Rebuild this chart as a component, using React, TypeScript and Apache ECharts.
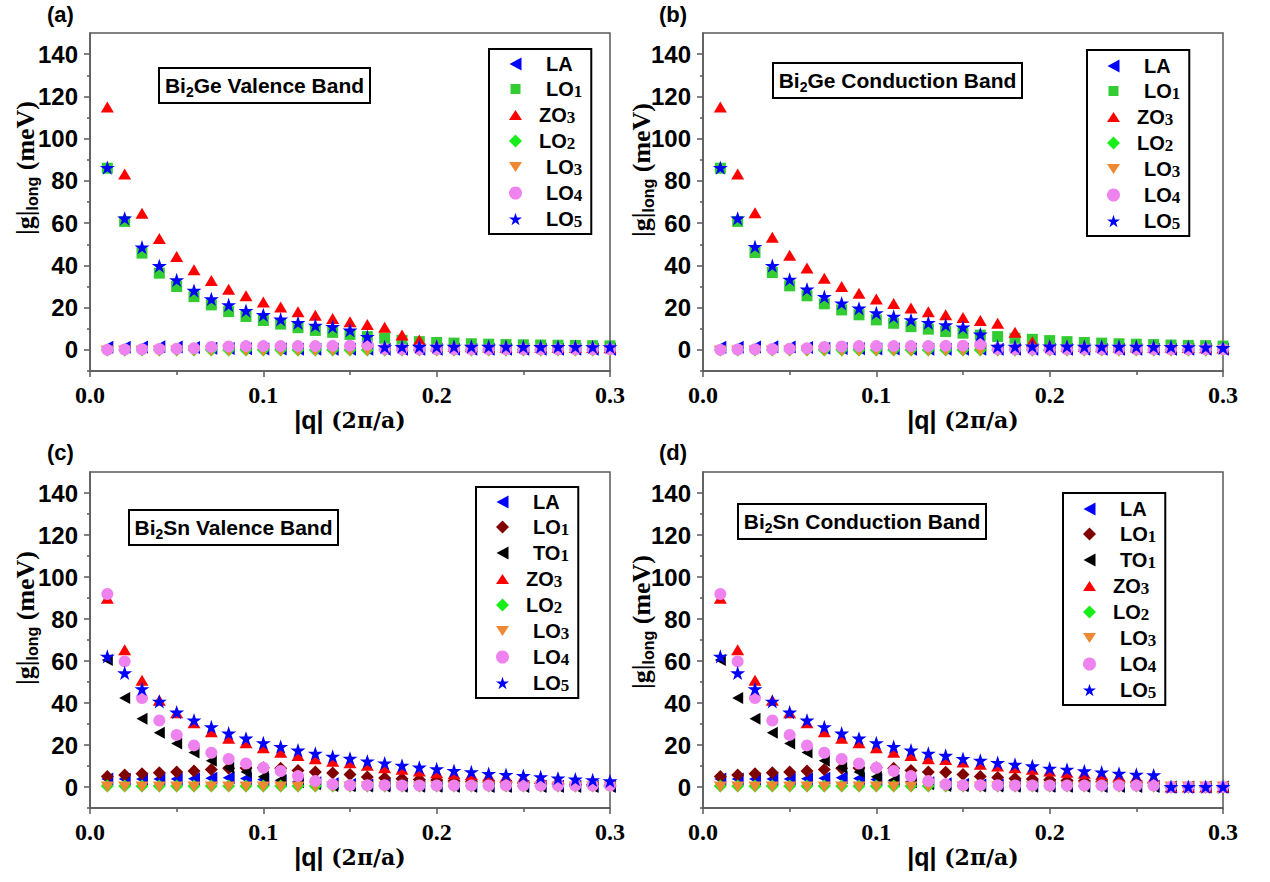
import React, { useEffect, useRef } from "react";
import * as echarts from "echarts";

// |q| in units of 2π/a
const qValues = [
  0.01, 0.02, 0.03, 0.04, 0.05, 0.06, 0.07, 0.08, 0.09, 0.1,
  0.11, 0.12, 0.13, 0.14, 0.15, 0.16, 0.17, 0.18, 0.19, 0.2,
  0.21, 0.22, 0.23, 0.24, 0.25, 0.26, 0.27, 0.28, 0.29, 0.3,
];

const yTickValues = [0, 20, 40, 60, 80, 100, 120, 140];
const yMinorTickValues = [-10, 10, 30, 50, 70, 90, 110, 130];

// ---- Bi2Ge, valence band: |g|long (meV) per phonon mode ----
const geVbLA = [1.2, 1.3, 1.4, 1.5, 1.4, 1.1, 0.8, 0.6, 0.5, 0.4, 0.4, 0.3, 0.3, 0.3, 0.3, 0.3, 0.3, 0.3, 0.3, 0.3, 0.3, 0.3, 0.3, 0.3, 0.3, 0.3, 0.3, 0.3, 0.3, 0.3];
const geVbLO1 = [86.0, 60.8, 45.8, 36.3, 30.0, 25.2, 21.3, 18.1, 15.8, 13.9, 12.2, 10.5, 9.2, 8.3, 7.3, 6.3, 5.5, 4.5, 3.9, 3.5, 3.2, 2.9, 2.7, 2.5, 2.4, 2.3, 2.2, 2.1, 2.0, 1.9];
const geVbZO3 = [115.0, 83.3, 64.7, 52.7, 44.2, 37.9, 32.8, 28.7, 25.6, 22.7, 20.3, 18.1, 16.4, 14.8, 13.3, 12.0, 10.7, 7.1, 4.7, 1.8, 1.6, 1.5, 1.4, 1.3, 1.3, 1.2, 1.2, 1.1, 1.1, 1.0];
const geVbLO2 = [0.0, 0.0, 0.0, 0.0, 0.0, 0.0, 0.0, 0.0, 0.0, 0.0, 0.0, 0.0, 0.0, 0.0, 0.0, 0.0, 0.0, 0.0, 0.0, 0.0, 0.0, 0.0, 0.0, 0.0, 0.0, 0.0, 0.0, 0.0, 0.0, 0.0];
const geVbLO3 = [-0.5, -0.5, -0.5, -0.5, -0.5, -0.5, -0.5, -0.5, -0.5, -0.5, -0.5, -0.5, -0.5, -0.5, -0.5, -0.5, -0.5, -0.5, -0.5, -0.5, -0.5, -0.5, -0.5, -0.5, -0.5, -0.5, -0.5, -0.5, -0.5, -0.5];
const geVbLO4 = [0.0, 0.2, 0.3, 0.4, 0.5, 0.8, 1.4, 1.6, 1.8, 1.8, 1.8, 1.8, 1.8, 1.9, 2.0, 2.4, 0.4, 0.3, 0.3, 0.3, 0.3, 0.3, 0.3, 0.3, 0.3, 0.3, 0.3, 0.3, 0.3, 0.3];
const geVbLO5 = [86.3, 62.3, 48.6, 39.8, 33.1, 28.1, 24.1, 21.3, 18.6, 16.6, 14.5, 12.9, 11.6, 11.0, 9.3, 6.3, 1.4, 1.5, 1.6, 1.6, 1.6, 1.6, 1.6, 1.6, 1.5, 1.5, 1.5, 1.5, 1.4, 1.4];

// ---- Bi2Ge, conduction band ----
const geCbLA = [1.2, 1.3, 1.4, 1.5, 1.4, 1.1, 0.8, 0.6, 0.5, 0.4, 0.4, 0.3, 0.3, 0.3, 0.3, 0.3, 0.3, 0.3, 0.3, 0.3, 0.3, 0.3, 0.3, 0.3, 0.3, 0.3, 0.3, 0.3, 0.3, 0.3];
const geCbLO1 = [86.0, 60.8, 46.1, 36.6, 30.3, 25.6, 21.8, 18.9, 16.6, 14.2, 12.6, 11.0, 9.8, 8.7, 7.9, 7.0, 6.3, 5.5, 5.0, 4.4, 3.9, 3.5, 3.2, 2.9, 2.7, 2.5, 2.3, 2.1, 2.0, 1.8];
const geCbZO3 = [115.0, 83.3, 64.9, 53.3, 44.8, 38.7, 33.9, 30.0, 26.8, 24.1, 21.9, 19.8, 18.1, 16.6, 15.3, 13.9, 12.6, 8.4, 3.9, 1.9, 1.7, 1.6, 1.5, 1.4, 1.4, 1.3, 1.2, 1.1, 1.0, 0.9];
const geCbLO2 = [0.0, 0.0, 0.0, 0.0, 0.0, 0.0, 0.0, 0.0, 0.0, 0.0, 0.0, 0.0, 0.0, 0.0, 0.0, 0.0, 0.0, 0.0, 0.0, 0.0, 0.0, 0.0, 0.0, 0.0, 0.0, 0.0, 0.0, 0.0, 0.0, 0.0];
const geCbLO3 = [-0.5, -0.5, -0.5, -0.5, -0.5, -0.5, -0.5, -0.5, -0.5, -0.5, -0.5, -0.5, -0.5, -0.5, -0.5, -0.5, -0.5, -0.5, -0.5, -0.5, -0.5, -0.5, -0.5, -0.5, -0.5, -0.5, -0.5, -0.5, -0.5, -0.5];
const geCbLO4 = [0.0, 0.2, 0.3, 0.4, 0.5, 0.8, 1.4, 1.6, 1.8, 1.8, 1.8, 1.8, 1.8, 1.9, 2.0, 2.8, 0.4, 0.3, 0.3, 0.3, 0.3, 0.3, 0.3, 0.3, 0.3, 0.3, 0.3, 0.3, 0.3, 0.3];
const geCbLO5 = [86.3, 62.3, 48.9, 39.9, 33.4, 28.7, 25.2, 22.1, 19.7, 17.5, 15.8, 14.2, 12.9, 11.8, 10.7, 7.4, 1.6, 1.6, 1.7, 1.7, 1.7, 1.6, 1.6, 1.6, 1.6, 1.5, 1.5, 1.4, 1.3, 1.0];

// ---- Bi2Sn, valence band ----
const snVbLA = [3.8, 3.8, 3.8, 3.8, 3.8, 3.9, 4.2, 4.4, 4.0, 3.6, 3.0, 2.6, 2.0, 1.5, 1.2, 1.0, 0.9, 0.8, 0.7, 0.6, 0.5, 0.5, 0.4, 0.4, 0.4, 0.3, 0.3, 0.3, 0.3, 0.3];
const snVbLO1 = [5.0, 5.7, 6.3, 6.8, 7.1, 7.6, 8.3, 8.9, 9.0, 9.2, 8.9, 7.8, 7.2, 6.7, 5.9, 4.8, 4.3, 3.9, 3.6, 3.3, 2.9, 2.6, 2.3, 2.1, 1.9, 1.7, 1.5, 1.3, 1.2, 1.0];
const snVbTO1 = [60.5, 42.4, 32.5, 25.8, 20.7, 16.4, 12.5, 9.2, 7.1, 4.9, 3.3, 2.3, 1.3, 0.5, 0.3, 0.2, 0.2, 0.1, 0.1, 0.1, 0.1, 0.1, 0.1, 0.1, 0.1, 0.1, 0.1, 0.1, 0.1, 0.1];
const snVbZO3 = [89.9, 65.4, 50.8, 41.3, 35.3, 30.6, 26.3, 23.2, 21.1, 18.7, 16.6, 15.0, 13.5, 12.3, 11.5, 10.3, 9.2, 8.4, 7.6, 6.8, 6.3, 5.9, 5.4, 4.9, 4.5, 4.1, 3.7, 3.3, 3.0, 2.6];
const snVbLO2 = [0.5, 0.5, 0.5, 0.5, 0.5, 0.5, 0.5, 0.5, 0.5, 0.5, 0.5, 0.5, 0.5, 0.5, 0.5, 0.5, 0.5, 0.5, 0.5, 0.5, 0.5, 0.5, 0.5, 0.5, 0.5, 0.5, 0.5, 0.5, 0.5, 0.5];
const snVbLO3 = [0.0, 0.0, 0.0, 0.0, 0.0, 0.0, 0.0, 0.0, 0.0, 0.0, 0.0, 0.0, 0.0, 0.0, 0.0, 0.0, 0.0, 0.0, 0.0, 0.0, 0.0, 0.0, 0.0, 0.0, 0.0, 0.0, 0.0, 0.0, 0.0, 0.0];
const snVbLO4 = [91.9, 59.8, 42.4, 31.7, 24.8, 19.8, 16.3, 13.3, 11.2, 9.2, 7.6, 5.2, 2.8, 1.3, 0.8, 0.8, 0.8, 0.7, 0.7, 0.7, 0.7, 0.7, 0.7, 0.7, 0.7, 0.7, 0.7, 0.7, 0.7, 0.7];
const snVbLO5 = [62.2, 54.3, 46.7, 40.8, 35.6, 31.8, 28.6, 25.6, 23.2, 21.0, 19.2, 17.5, 16.0, 14.6, 13.6, 12.3, 11.4, 10.3, 9.4, 8.6, 7.8, 7.2, 6.4, 5.9, 5.4, 4.8, 4.2, 3.7, 3.4, 2.9];

// ---- Bi2Sn, conduction band ----
const snCbLA = [3.8, 3.8, 3.8, 3.8, 3.8, 3.9, 4.2, 4.4, 4.0, 3.6, 3.0, 2.6, 2.0, 1.5, 1.2, 1.0, 0.9, 0.8, 0.7, 0.6, 0.5, 0.5, 0.4, 0.4, 0.4, 0.3, 0.0, 0.0, 0.0, 0.0];
const snCbLO1 = [5.0, 5.7, 6.3, 6.8, 7.1, 7.6, 8.3, 8.9, 9.0, 9.2, 8.9, 7.8, 7.2, 7.0, 5.9, 5.0, 4.5, 4.1, 3.8, 3.5, 3.1, 2.8, 2.5, 2.3, 2.1, 1.9, 0.0, 0.0, 0.0, 0.0];
const snCbTO1 = [60.5, 42.4, 32.5, 25.8, 20.7, 16.4, 12.5, 9.2, 7.1, 4.9, 3.3, 2.3, 1.3, 0.5, 0.3, 0.2, 0.2, 0.1, 0.1, 0.1, 0.1, 0.1, 0.1, 0.1, 0.1, 0.1, 0.0, 0.0, 0.0, 0.0];
const snCbZO3 = [89.9, 65.4, 50.8, 41.3, 35.3, 30.6, 26.3, 23.2, 21.1, 18.7, 16.6, 15.0, 13.5, 13.1, 11.9, 10.8, 10.0, 9.2, 8.4, 7.6, 7.0, 6.5, 5.9, 5.2, 4.8, 4.4, 0.0, 0.0, 0.0, 0.0];
const snCbLO2 = [0.5, 0.5, 0.5, 0.5, 0.5, 0.5, 0.5, 0.5, 0.5, 0.5, 0.5, 0.5, 0.5, 0.5, 0.5, 0.5, 0.5, 0.5, 0.5, 0.5, 0.5, 0.5, 0.5, 0.5, 0.5, 0.5, 0.0, 0.0, 0.0, 0.0];
const snCbLO3 = [0.0, 0.0, 0.0, 0.0, 0.0, 0.0, 0.0, 0.0, 0.0, 0.0, 0.0, 0.0, 0.0, 0.0, 0.0, 0.0, 0.0, 0.0, 0.0, 0.0, 0.0, 0.0, 0.0, 0.0, 0.0, 0.0, 0.0, 0.0, 0.0, 0.0];
const snCbLO4 = [91.9, 59.8, 42.4, 31.7, 24.8, 19.8, 16.3, 13.3, 11.2, 9.2, 7.6, 5.2, 2.8, 1.3, 0.8, 0.8, 0.8, 0.7, 0.7, 0.7, 0.7, 0.7, 0.7, 0.7, 0.7, 0.7, 0.0, 0.0, 0.0, 0.0];
const snCbLO5 = [62.2, 54.3, 46.7, 40.8, 35.6, 31.8, 28.6, 25.6, 23.2, 21.0, 19.2, 17.5, 16.0, 15.0, 13.5, 12.7, 11.6, 10.8, 10.0, 8.9, 8.4, 7.6, 7.1, 6.5, 6.0, 5.7, 0.1, 0.1, 0.1, 0.1];

const FONT_SANS = "'Liberation Sans', Arial, sans-serif";
const FONT_SERIF = "'Liberation Serif', 'Times New Roman', serif";
const FONT_MATH = "'DejaVu Serif', serif";
const AXIS_COLOR = "#5a5a5a";

const STAR =
  "path://M0,-10L2.25,-3.09L9.51,-3.09L3.63,1.18L5.88,8.09L0,3.82L-5.88,8.09L-3.63,1.18L-9.51,-3.09L-2.25,-3.09Z";

// legend icons drawn inside a 13x13 box (the leading moves fix the box)
const ICON_LEFT = "path://M0,0M13,13M0.5,6.5L12.5,0L12.5,13Z";
const ICON_UP = "path://M0,0M13,13M0,11.5L6.5,1.5L13,11.5Z";
const ICON_DOWN = "path://M0,0M13,13M0,1.5L13,1.5L6.5,11.5Z";
const ICON_SQUARE = "path://M0,0M13,13M1.5,1.5L11.5,1.5L11.5,11.5L1.5,11.5Z";

type Marker = {
  symbol: string;
  rotate?: number;
  size: number | number[];
  color: string;
  legendIcon?: string;
};

const sharedMarkers: Record<string, Marker> = {
  LA: { symbol: "triangle", rotate: 90, size: [13, 12], color: "#0000ff", legendIcon: ICON_LEFT },
  ZO3: { symbol: "triangle", size: [13, 11], color: "#ff0000", legendIcon: ICON_UP },
  LO2: { symbol: "diamond", size: 13, color: "#1aee1a" },
  LO3: { symbol: "triangle", rotate: 180, size: [13, 11], color: "#ee8833", legendIcon: ICON_DOWN },
  LO4: { symbol: "circle", size: 12, color: "#ee82ee" },
  LO5: { symbol: STAR, size: 15, color: "#0000ff" },
};
const geMarkers: Record<string, Marker> = {
  ...sharedMarkers,
  LO1: { symbol: "rect", size: 11, color: "#33cc33", legendIcon: ICON_SQUARE },
};
const snMarkers: Record<string, Marker> = {
  ...sharedMarkers,
  LO1: { symbol: "diamond", size: 13, color: "#800000" },
  TO1: { symbol: "triangle", rotate: 90, size: [12, 11], color: "#000000", legendIcon: ICON_LEFT },
};

// legend entries whose text sits a little further left
const NUDGED = new Set(["ZO3", "LO2"]);

type Panel = {
  tag: string;
  title: [string, string, string];
  grid: { left: number; top: number; width: number; height: number };
  titleBox: { x: number; y: number; w: number; h: number };
  legend: { left: number; top: number; padTop: number };
  yTitle: { x: number; y: number };
  tagPos: { x: number; y: number };
  xNameGap: number;
  markers: Record<string, Marker>;
  modes: { key: string; values: number[] }[];
};

const panels: Panel[] = [
  {
    tag: "(a)",
    title: ["Bi", "2", "Ge Valence Band"],
    grid: { left: 90, top: 33, width: 520, height: 338 },
    titleBox: { x: 159, y: 68, w: 211, h: 35 },
    legend: { left: 489, top: 49, padTop: 5 },
    yTitle: { x: 25, y: 168 },
    tagPos: { x: 47, y: 3 },
    xNameGap: 27,
    markers: geMarkers,
    modes: [
      { key: "LA", values: geVbLA },
      { key: "LO1", values: geVbLO1 },
      { key: "ZO3", values: geVbZO3 },
      { key: "LO2", values: geVbLO2 },
      { key: "LO3", values: geVbLO3 },
      { key: "LO4", values: geVbLO4 },
      { key: "LO5", values: geVbLO5 },
    ],
  },
  {
    tag: "(b)",
    title: ["Bi", "2", "Ge Conduction Band"],
    grid: { left: 703, top: 33, width: 520, height: 338 },
    titleBox: { x: 773, y: 63, w: 249, h: 35 },
    legend: { left: 1087, top: 50, padTop: 6 },
    yTitle: { x: 641, y: 170 },
    tagPos: { x: 659, y: 3 },
    xNameGap: 27,
    markers: geMarkers,
    modes: [
      { key: "LA", values: geCbLA },
      { key: "LO1", values: geCbLO1 },
      { key: "ZO3", values: geCbZO3 },
      { key: "LO2", values: geCbLO2 },
      { key: "LO3", values: geCbLO3 },
      { key: "LO4", values: geCbLO4 },
      { key: "LO5", values: geCbLO5 },
    ],
  },
  {
    tag: "(c)",
    title: ["Bi", "2", "Sn Valence Band"],
    grid: { left: 90, top: 472, width: 520, height: 336 },
    titleBox: { x: 129, y: 510, w: 209, h: 35 },
    legend: { left: 476, top: 487, padTop: 5 },
    yTitle: { x: 25, y: 618 },
    tagPos: { x: 47, y: 441 },
    xNameGap: 31,
    markers: snMarkers,
    modes: [
      { key: "LA", values: snVbLA },
      { key: "LO1", values: snVbLO1 },
      { key: "TO1", values: snVbTO1 },
      { key: "ZO3", values: snVbZO3 },
      { key: "LO2", values: snVbLO2 },
      { key: "LO3", values: snVbLO3 },
      { key: "LO4", values: snVbLO4 },
      { key: "LO5", values: snVbLO5 },
    ],
  },
  {
    tag: "(d)",
    title: ["Bi", "2", "Sn Conduction Band"],
    grid: { left: 703, top: 472, width: 520, height: 336 },
    titleBox: { x: 738, y: 504, w: 248, h: 35 },
    legend: { left: 1063, top: 493, padTop: 6 },
    yTitle: { x: 641, y: 622 },
    tagPos: { x: 659, y: 441 },
    xNameGap: 31,
    markers: snMarkers,
    modes: [
      { key: "LA", values: snCbLA },
      { key: "LO1", values: snCbLO1 },
      { key: "TO1", values: snCbTO1 },
      { key: "ZO3", values: snCbZO3 },
      { key: "LO2", values: snCbLO2 },
      { key: "LO3", values: snCbLO3 },
      { key: "LO4", values: snCbLO4 },
      { key: "LO5", values: snCbLO5 },
    ],
  },
];

// "LO1" -> LO with subscript 1
function modeLabel(key: string): string {
  const m = key.match(/^([A-Z]+)(\d*)$/);
  if (!m) return `{m|${key}}`;
  return m[2] ? `{m|${m[1]}}{s|${m[2]}}` : `{m|${m[1]}}`;
}

const legendRich = {
  m: { fontFamily: FONT_SANS, fontWeight: "bold", fontSize: 20, lineHeight: 22, color: "#000" },
  s: { fontFamily: FONT_SERIF, fontWeight: "bold", fontSize: 17, lineHeight: 12, verticalAlign: "bottom", color: "#000" },
};
const titleRich = {
  m: { fontFamily: FONT_SANS, fontWeight: "bold", fontSize: 21, lineHeight: 26, color: "#000" },
  s: { fontFamily: FONT_SANS, fontWeight: "bold", fontSize: 14, lineHeight: 14, verticalAlign: "bottom", color: "#000" },
};
const yTitleRich = {
  g: { fontFamily: FONT_SERIF, fontWeight: "bold", fontSize: 26, lineHeight: 30, color: "#000" },
  l: { fontFamily: FONT_SANS, fontWeight: "bold", fontSize: 16, lineHeight: 14, verticalAlign: "bottom", color: "#000" },
};
const xNameRich = {
  q: { fontFamily: FONT_SANS, fontWeight: "bold", fontSize: 25, lineHeight: 30, color: "#000" },
  r: { fontFamily: FONT_MATH, fontWeight: "bold", fontSize: 22, lineHeight: 30, color: "#000" },
};

function buildOption() {
  const axisLineStyle = { color: AXIS_COLOR, width: 1.5 };

  const grid = panels.map((p) => ({
    ...p.grid,
    show: true,
    borderColor: AXIS_COLOR,
    borderWidth: 1.5,
    backgroundColor: "transparent",
  }));

  const xAxis = panels.map((p, i) => ({
    type: "value",
    gridIndex: i,
    min: 0,
    max: 0.3,
    interval: 0.1,
    axisLine: { show: true, onZero: false, lineStyle: axisLineStyle },
    axisTick: { show: true, length: 6, lineStyle: axisLineStyle },
    minorTick: { show: true, splitNumber: 2, length: 4, lineStyle: axisLineStyle },
    splitLine: { show: false },
    minorSplitLine: { show: false },
    axisLabel: {
      margin: 12,
      color: "#000",
      fontFamily: FONT_SERIF,
      fontWeight: "bold",
      fontSize: 24,
      formatter: (v: number) => v.toFixed(1),
    },
    name: "{q||q|}{r| (2π/a)}",
    nameLocation: "middle",
    nameGap: p.xNameGap,
    nameTextStyle: { rich: xNameRich },
  }));

  const yAxis = panels.flatMap((p, i) => [
    {
      type: "value",
      gridIndex: i,
      position: "left",
      offset: 0,
      min: -10,
      max: 150,
      axisLine: { show: true, onZero: false, lineStyle: axisLineStyle },
      axisTick: { show: true, length: 6, customValues: yTickValues, lineStyle: axisLineStyle },
      splitLine: { show: false },
      axisLabel: {
        customValues: yTickValues,
        margin: 12,
        color: "#000",
        fontFamily: FONT_SANS,
        fontWeight: "bold",
        fontSize: 24,
      },
    },
    {
      type: "value",
      gridIndex: i,
      position: "left",
      offset: 0,
      min: -10,
      max: 150,
      axisLine: { show: false, onZero: false },
      axisTick: { show: true, length: 3, customValues: yMinorTickValues, lineStyle: axisLineStyle },
      splitLine: { show: false },
      axisLabel: { show: false },
    },
  ]);

  const series = panels.flatMap((p, i) =>
    p.modes.map((m) => {
      const mk = p.markers[m.key];
      return {
        type: "scatter",
        name: `${p.tag} ${m.key}`,
        xAxisIndex: i,
        yAxisIndex: 2 * i,
        data: qValues.map((q, k) => [q, m.values[k]]),
        symbol: mk.symbol,
        symbolSize: mk.size,
        symbolRotate: mk.rotate ?? 0,
        symbolKeepAspect: true,
        itemStyle: { color: mk.color, opacity: 1 },
        emphasis: { disabled: true },
        silent: true,
      };
    })
  );

  const legend = panels.map((p) => ({
    orient: "vertical",
    left: p.legend.left,
    top: p.legend.top,
    padding: [p.legend.padTop, 9, 4, 20],
    itemGap: 5,
    itemWidth: 13,
    itemHeight: 13,
    borderColor: "#000",
    borderWidth: 2,
    borderRadius: 0,
    backgroundColor: "#fff",
    selectedMode: false,
    symbolRotate: 0,
    data: p.modes.map((m) => {
      const mk = p.markers[m.key];
      const item: any = {
        name: `${p.tag} ${m.key}`,
        textStyle: { padding: [0, 0, 0, NUDGED.has(m.key) ? 12 : 19] },
      };
      if (mk.legendIcon) item.icon = mk.legendIcon;
      return item;
    }),
    formatter: (name: string) => modeLabel(name.split(" ")[1]),
    textStyle: { color: "#000", rich: legendRich },
  }));

  const graphic = panels.flatMap((p) => [
    {
      type: "text",
      x: p.tagPos.x,
      y: p.tagPos.y,
      style: {
        text: p.tag,
        font: `bold 22px ${FONT_SANS}`,
        fill: "#000",
        align: "left",
        verticalAlign: "top",
      },
    },
    {
      type: "group",
      x: p.titleBox.x,
      y: p.titleBox.y,
      children: [
        {
          type: "rect",
          shape: { x: 0, y: 0, width: p.titleBox.w, height: p.titleBox.h },
          style: { fill: "#fff", stroke: "#000", lineWidth: 2 },
        },
        {
          type: "text",
          x: p.titleBox.w / 2,
          y: p.titleBox.h / 2,
          style: {
            text: `{m|${p.title[0]}}{s|${p.title[1]}}{m|${p.title[2]}}`,
            rich: titleRich,
            align: "center",
            verticalAlign: "middle",
          },
        },
      ],
    },
    {
      type: "text",
      x: p.yTitle.x,
      y: p.yTitle.y,
      rotation: Math.PI / 2,
      style: {
        text: "{g||g|}{l|long}{g| (meV)}",
        rich: yTitleRich,
        align: "center",
        verticalAlign: "middle",
      },
    },
  ]);

  return {
    animation: false,
    backgroundColor: "#fff",
    grid,
    xAxis,
    yAxis,
    series,
    legend,
    graphic,
  };
}

export default function App() {
  const ref = useRef<HTMLDivElement>(null);

  useEffect(() => {
    document.body.style.margin = "0";
    if (!ref.current) return;
    const chart = echarts.init(ref.current, undefined, { renderer: "svg" });
    chart.setOption(buildOption() as any);
    return () => chart.dispose();
  }, []);

  return (
    <div
      ref={ref}
      style={{ position: "absolute", left: 0, top: 0, width: 1270, height: 882 }}
    />
  );
}
